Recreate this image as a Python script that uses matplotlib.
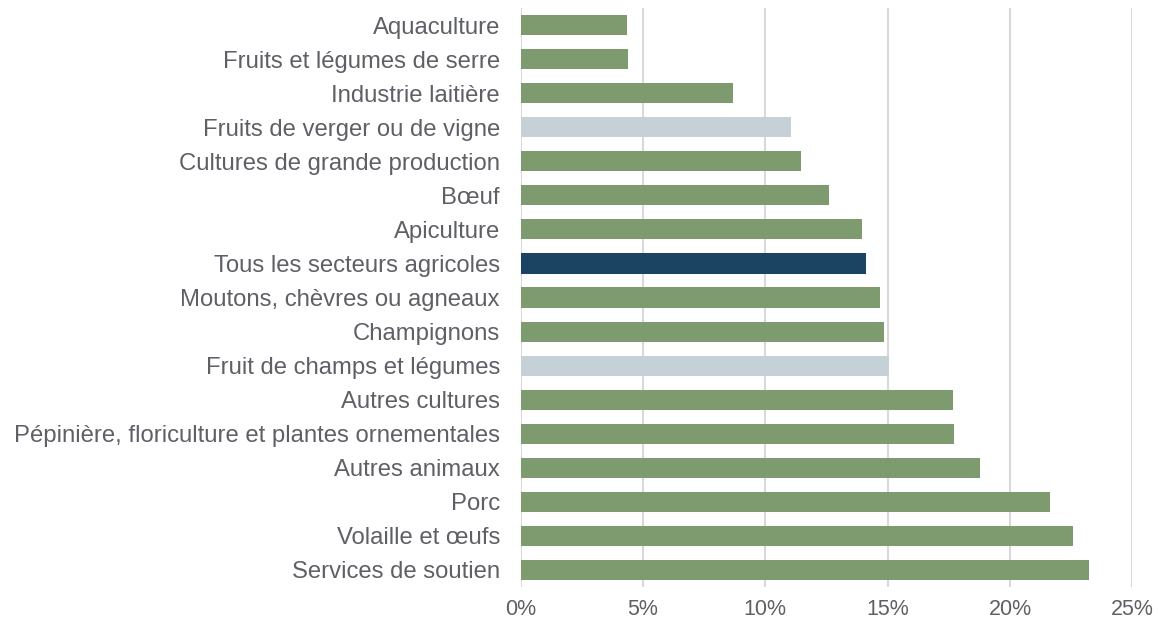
import matplotlib.pyplot as plt
from matplotlib.ticker import FuncFormatter

# Categories from top to bottom, as shown in the chart
categories = [
    "Aquaculture",
    "Fruits et légumes de serre",
    "Industrie laitière",
    "Fruits de verger ou de vigne",
    "Cultures de grande production",
    "Bœuf",
    "Apiculture",
    "Tous les secteurs agricoles",
    "Moutons, chèvres ou agneaux",
    "Champignons",
    "Fruit de champs et légumes",
    "Autres cultures",
    "Pépinière, floriculture et plantes ornementales",
    "Autres animaux",
    "Porc",
    "Volaille et œufs",
    "Services de soutien",
]
values = [4.35, 4.39, 8.67, 11.06, 11.44, 12.62, 13.97, 14.12, 14.70, 14.86,
          15.07, 17.66, 17.70, 18.76, 21.62, 22.59, 23.21]
highlight = ["Tous les secteurs agricoles"]
muted = ["Fruits de verger ou de vigne", "Fruit de champs et légumes"]
x_ticks = [0, 5, 10, 15, 20, 25]

green = "#7d9b6f"
navy = "#1a4462"
grey = "#c5d0d7"
text_col = "#5f6066"

plt.rcParams['font.family'] = ['Liberation Sans', 'DejaVu Sans']

colors = []
for c in categories:
    if c in highlight:
        colors.append(navy)
    elif c in muted:
        colors.append(grey)
    else:
        colors.append(green)

fig = plt.figure(figsize=(11.58, 6.22), dpi=100)
ax = fig.add_axes([0.4497, 0.0563, 0.9778 - 0.4497, 0.987 - 0.0563])

ypos = list(range(len(categories)))
ax.barh(ypos, values, height=0.59, color=colors, zorder=3)

ax.set_ylim(len(categories) - 0.5, -0.5)
ax.set_xlim(0, 25)
ax.set_yticks(ypos)
ax.set_yticklabels(categories, fontsize=17.2, color=text_col)
ax.set_xticks(x_ticks)
ax.xaxis.set_major_formatter(FuncFormatter(lambda v, p: "{:.0f}%".format(v)))
ax.tick_params(axis='x', labelsize=15.5, labelcolor=text_col, length=0, pad=9)
ax.tick_params(axis='y', length=0, pad=15)

ax.grid(axis='x', color="#d9d9d9", linewidth=1.5, zorder=0)
for s in ax.spines.values():
    s.set_visible(False)

fig.savefig("out.png", dpi=100)
